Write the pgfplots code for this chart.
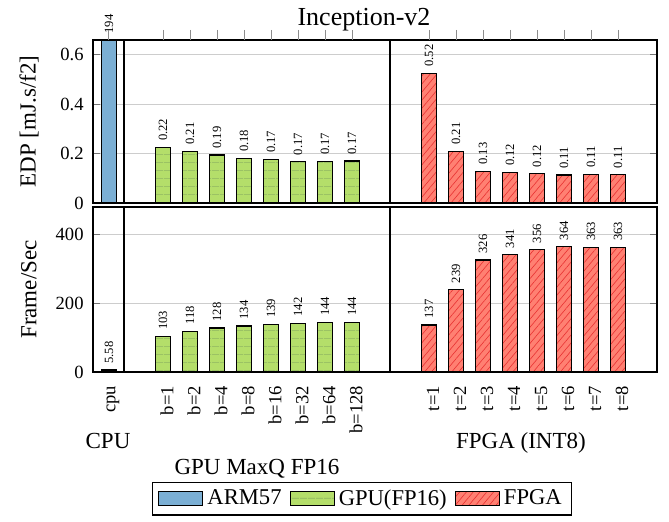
\documentclass[border=0pt]{standalone}
\usepackage{pgfplots}
\pgfplotsset{compat=1.18}
\usepackage{fontspec}
\setmainfont{Liberation Serif}
\usetikzlibrary{patterns.meta}

\definecolor{armblue}{RGB}{123,175,212}
\definecolor{gpugreen}{RGB}{180,222,106}
\definecolor{gpuline}{RGB}{142,180,98}
\definecolor{fpgafill}{RGB}{255,128,114}
\definecolor{fpgaline}{RGB}{232,50,50}
\definecolor{gridgray}{RGB}{205,205,205}

\pgfplotsset{
  rowaxis/.style={
    scale only axis, width=282pt, clip=false,
    xmin=93, xmax=657,
    xtick={109,163,190,217,244,271,298,325,352,429,456,483,510,537,564,591,618},
    ymajorgrids, grid style={gridgray, line width=0.5pt},
    ytick style={black!55, line width=0.5pt}, major tick length=3.5pt,
    tick label style={font=\fontsize{9.3}{10}\selectfont},
    yticklabel style={anchor=east, inner sep=0pt, text width=24pt, align=right,
      xshift=-4.5pt},
    axis line style={line width=0.6pt},
    ybar, bar width=15.5,
    nodes near coords, point meta=explicit symbolic,
    nodes near coords style={rotate=90, anchor=west, inner sep=3pt,
      font=\fontsize{6.3}{7}\selectfont},
    every axis y label/.style={at={(axis description cs:-0.1135,0.5)},
      rotate=90, anchor=center, font=\fontsize{11.5}{13}\selectfont},
  },
  cpubar/.style={fill=armblue, draw=black, line width=0.6pt, bar shift=0pt},
  gpubar/.style={fill=gpugreen, draw=black, line width=0.6pt, bar shift=0pt,
    postaction={pattern={Lines[angle=0,distance=4pt,line width=0.4pt]}, pattern color=gpuline}},
  fpgabar/.style={fill=fpgafill, draw=black, line width=0.6pt, bar shift=0pt,
    postaction={pattern={Lines[angle=50,distance=2.6pt,line width=0.3pt]}, pattern color=fpgaline}},
}

\begin{document}
\begin{tikzpicture}
% top row: EDP
\begin{axis}[rowaxis, at={(0pt,0pt)}, anchor=north west, height=81.5pt,
  ymin=0, ymax=0.66, ytick={0,0.2,0.4,0.6}, yticklabels={0,0.2,0.4,0.6},
  xtick pos=lower, xtick align=inside, xticklabels={},
  xtick style={black!45, line width=0.5pt},
  ylabel={EDP [mJ.s/f2]}]
\addplot[cpubar, restrict y to domain*=0:0.66] coordinates {(109,194) [194]};
\addplot[gpubar] coordinates {
  (163,0.225) [0.22] (190,0.210) [0.21] (217,0.194) [0.19] (244,0.180) [0.18]
  (271,0.176) [0.17] (298,0.167) [0.17] (325,0.168) [0.17] (352,0.170) [0.17]};
\addplot[fpgabar] coordinates {
  (429,0.525) [0.52] (456,0.210) [0.21] (483,0.129) [0.13] (510,0.124) [0.12]
  (537,0.118) [0.12] (564,0.113) [0.11] (591,0.115) [0.11] (618,0.114) [0.11]};
\draw[line width=0.6pt] (axis cs:124,0) -- (axis cs:124,0.66);
\draw[line width=0.6pt] (axis cs:390,0) -- (axis cs:390,0.66);
\node[anchor=base, yshift=7pt, font=\fontsize{13}{15}\selectfont]
  at (rel axis cs:0.4805,1) {Inception-v2};
\end{axis}

% outward ticks above the top row
\begin{axis}[at={(0pt,0pt)}, anchor=north west, scale only axis,
  width=282pt, height=81.5pt, xmin=93, xmax=657, ymin=0, ymax=1,
  axis x line*=top, axis y line=none,
  xtick={109,163,190,217,244,271,298,325,352,429,456,483,510,537,564,591,618},
  xticklabels={}, xtick align=outside, major tick length=5pt,
  xtick style={black!45, line width=0.5pt}, x axis line style={draw=none}]
\end{axis}

% bottom row: frames per second
\begin{axis}[rowaxis, at={(0pt,-83.5pt)}, anchor=north west, height=82.5pt,
  ymin=0, ymax=480, ytick={0,200,400}, yticklabels={0,200,400},
  xtick pos=lower, xtick style={draw=none},
  xticklabels={cpu,{b=1},{b=2},{b=4},{b=8},{b=16},{b=32},{b=64},{b=128},
    {t=1},{t=2},{t=3},{t=4},{t=5},{t=6},{t=7},{t=8}},
  xticklabel style={rotate=90, anchor=east, yshift=-2pt},
  ylabel={Frame/Sec},
  legend columns=3,
  legend image code/.code={\draw[#1] (0pt,-3.5pt) rectangle (22pt,3.5pt);},
  legend style={at={(0.477,-0.665)}, anchor=north, draw=black, line width=0.6pt,
    font=\fontsize{11.3}{12}\selectfont, inner xsep=3pt, inner ysep=1.5pt,
    /tikz/every even column/.append style={column sep=2pt}}]
\addplot[cpubar] coordinates {(109,5.58) [5.58]};
\addplot[gpubar] coordinates {
  (163,103) [103] (190,118) [118] (217,128) [128] (244,134) [134]
  (271,139) [139] (298,142) [142] (325,144) [144] (352,144) [144]};
\addplot[fpgabar] coordinates {
  (429,137) [137] (456,239) [239] (483,326) [326] (510,341) [341]
  (537,356) [356] (564,364) [364] (591,363) [363] (618,363) [363]};
\legend{ARM57,GPU(FP16),FPGA}
\draw[line width=0.6pt] (axis cs:124,0) -- (axis cs:124,480);
\draw[line width=0.6pt] (axis cs:390,0) -- (axis cs:390,480);
\node[anchor=base, yshift=-38.5pt, font=\fontsize{11.5}{13}\selectfont]
  at (axis cs:108,0) {CPU};
\node[anchor=base, yshift=-51.5pt, font=\fontsize{11.5}{13}\selectfont]
  at (axis cs:257,0) {GPU MaxQ FP16};
\node[anchor=base, yshift=-38.5pt, font=\fontsize{11.5}{13}\selectfont]
  at (axis cs:521,0) {FPGA (INT8)};
\end{axis}
\path (-46.5pt,20pt) rectangle (288pt,-241pt);
\end{tikzpicture}
\end{document}
